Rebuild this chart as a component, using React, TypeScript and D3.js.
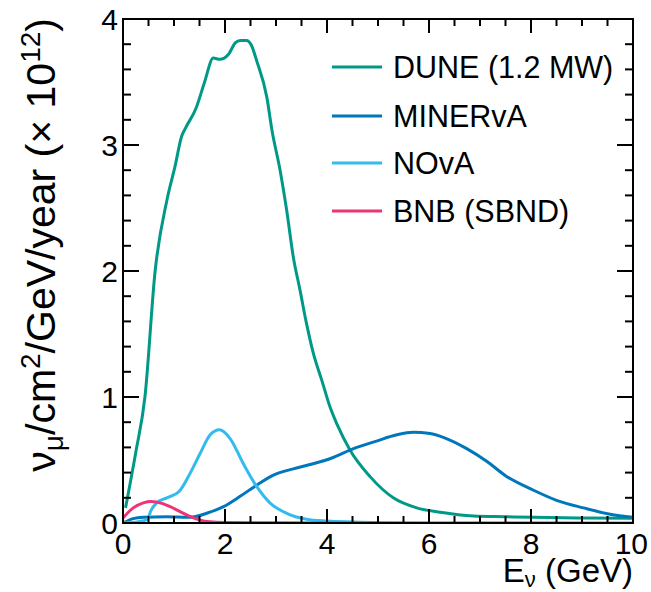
import React from "react";
import * as d3 from "d3";

const duneE = [0.05, 0.25, 0.43, 0.63, 0.86, 1.02, 1.15, 1.22, 1.44, 1.6, 1.77, 1.9, 2.07, 2.2, 2.3, 2.42, 2.52, 2.62, 2.82, 2.92, 3.08, 3.21, 3.34, 3.47, 3.6, 3.73, 3.9, 4.06, 4.2, 4.45, 4.84, 5.3, 5.76, 6.22, 6.87, 7.5, 8.05, 9.0, 10];
const duneV = [0.12, 0.56, 1.0, 2.0, 2.56, 2.83, 3.07, 3.13, 3.3, 3.5, 3.69, 3.68, 3.72, 3.81, 3.83, 3.83, 3.79, 3.67, 3.38, 3.12, 2.8, 2.48, 2.11, 1.85, 1.58, 1.35, 1.13, 0.92, 0.78, 0.58, 0.37, 0.2, 0.12, 0.085, 0.056, 0.05, 0.045, 0.04, 0.037];

const minervaE = [0, 0.2, 0.4, 0.86, 1.31, 1.64, 1.97, 2.29, 2.62, 2.95, 3.34, 3.73, 4.12, 4.52, 4.97, 5.37, 5.69, 6.02, 6.28, 6.74, 7.13, 7.52, 8.05, 8.5, 9.03, 9.55, 10];
const minervaV = [0.0, 0.035, 0.045, 0.05, 0.045, 0.077, 0.13, 0.21, 0.3, 0.38, 0.43, 0.47, 0.52, 0.59, 0.65, 0.7, 0.72, 0.71, 0.68, 0.59, 0.49, 0.37, 0.26, 0.18, 0.12, 0.07, 0.045];

const novaE = [0, 0.3, 0.48, 0.55, 0.66, 0.86, 1.1, 1.31, 1.51, 1.71, 1.89, 2.1, 2.36, 2.62, 2.88, 3.21, 3.6, 4.0, 4.5, 5, 6, 8, 10];
const novaV = [0.0, 0.01, 0.03, 0.1, 0.16, 0.2, 0.25, 0.39, 0.55, 0.7, 0.74, 0.67, 0.47, 0.29, 0.16, 0.077, 0.03, 0.015, 0.008, 0.004, 0.002, 0.001, 0.0];

const bnbE = [0, 0.2, 0.4, 0.55, 0.76, 0.95, 1.12, 1.3, 1.5, 1.7, 2, 3, 4, 5];
const bnbV = [0.04, 0.12, 0.16, 0.17, 0.156, 0.125, 0.09, 0.055, 0.025, 0.01, 0.004, 0.001, 0.0, 0.0];

const seriesNames = ["DUNE (1.2 MW)", "MINERvA", "NOvA", "BNB (SBND)"];
const seriesColors = ["#009988", "#0077BB", "#33BBEE", "#EE3377"];
const xTickLabels = ["0", "2", "4", "6", "8", "10"];
const yTickLabels = ["0", "1", "2", "3", "4"];

const W = 651, H = 592;
const L = 123, R = 633, T = 19, B = 523;
const FONT = "'Liberation Sans', Arial, Helvetica, sans-serif";

export default function App() {
  const x = d3.scaleLinear().domain([0, 10]).range([L, R]);
  const y = d3.scaleLinear().domain([0, 4]).range([B, T]);
  const line = d3.line<[number, number]>().x(d => x(d[0])).y(d => y(d[1])).curve(d3.curveMonotoneX);
  const series = [
    { e: duneE, v: duneV },
    { e: minervaE, v: minervaV },
    { e: novaE, v: novaV },
    { e: bnbE, v: bnbV },
  ];
  const xMajor = xTickLabels.map(Number);
  const xMinor = d3.range(0, 10.001, 0.5).filter(t => Math.abs(t % 2) > 1e-6);
  const yMajor = yTickLabels.map(Number);
  const yMinor = d3.range(0, 4.001, 0.2).filter(t => Math.abs(t - Math.round(t)) > 1e-6);

  const legendY = [67, 116, 163, 211];
  const last = xTickLabels.length - 1;

  return (
    <svg width={W} height={H} style={{ position: "absolute", left: 0, top: 0, background: "#fff" }} fontFamily={FONT}>
      <defs>
        <clipPath id="plot"><rect x={L} y={T} width={R - L} height={B - T} /></clipPath>
      </defs>
      <g clipPath="url(#plot)" fill="none" strokeWidth={3} strokeLinejoin="round">
        {series.map((s, i) => (
          <path key={i} d={line(s.e.map((e, j) => [e, s.v[j]] as [number, number])) || ""} stroke={seriesColors[i]} />
        ))}
      </g>
      <rect x={L} y={T} width={R - L} height={B - T} fill="none" stroke="#000" strokeWidth={2} />
      <g stroke="#000" strokeWidth={2}>
        {xMajor.map(t => (
          <g key={"xM" + t}>
            <line x1={x(t)} x2={x(t)} y1={B} y2={B - 14} />
            <line x1={x(t)} x2={x(t)} y1={T} y2={T + 14} />
          </g>
        ))}
        {xMinor.map(t => (
          <g key={"xm" + t}>
            <line x1={x(t)} x2={x(t)} y1={B} y2={B - 7} />
            <line x1={x(t)} x2={x(t)} y1={T} y2={T + 7} />
          </g>
        ))}
        {yMajor.map(t => (
          <g key={"yM" + t}>
            <line x1={L} x2={L + 16} y1={y(t)} y2={y(t)} />
            <line x1={R} x2={R - 16} y1={y(t)} y2={y(t)} />
          </g>
        ))}
        {yMinor.map(t => (
          <g key={"ym" + t}>
            <line x1={L} x2={L + 8} y1={y(t)} y2={y(t)} />
            <line x1={R} x2={R - 8} y1={y(t)} y2={y(t)} />
          </g>
        ))}
      </g>
      <g fontSize={30} fill="#000">
        {xTickLabels.map((lab, i) => (
          <text key={"xl" + i} x={x(xMajor[i])} y={B + 31} textAnchor={i === last ? "end" : "middle"} dx={i === last ? 15 : 0}>{lab}</text>
        ))}
        {yTickLabels.map((lab, i) => (
          <text key={"yl" + i} x={L - 5} y={y(yMajor[i])} dy="0.36em" textAnchor="end">{lab}</text>
        ))}
      </g>
      <text x={R} y={582} textAnchor="end" fontSize={33} fill="#000">
        E<tspan fontSize={22} dy={5}>ν</tspan><tspan dy={-5}> (GeV)</tspan>
      </text>
      <text transform={`translate(55, ${T - 1}) rotate(-90)`} textAnchor="end" fontSize={41} fill="#000">
        ν<tspan fontSize={28} dy={8}>μ</tspan><tspan dy={-8}>/cm</tspan><tspan fontSize={28} dy={-15}>2</tspan><tspan dy={15}>/GeV/year (× 10</tspan><tspan fontSize={28} dy={-15}>12</tspan><tspan dy={15}>)</tspan>
      </text>
      {seriesNames.map((name, i) => (
        <g key={"lg" + i}>
          <line x1={332} x2={382} y1={legendY[i]} y2={legendY[i]} stroke={seriesColors[i]} strokeWidth={3} />
          <text x={393} y={legendY[i]} dy="0.36em" fontSize={30.5} fill="#000">{name}</text>
        </g>
      ))}
    </svg>
  );
}
